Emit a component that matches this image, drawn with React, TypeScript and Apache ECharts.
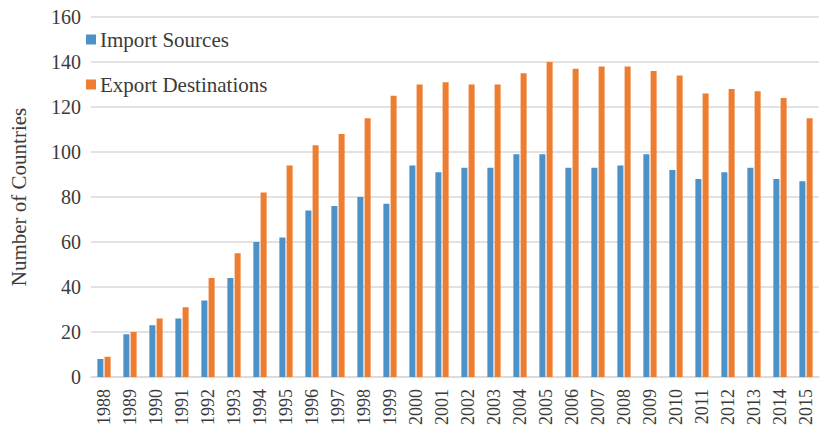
import React, { useEffect, useRef } from "react";
import * as echarts from "echarts";

const years = [
  "1988", "1989", "1990", "1991", "1992", "1993", "1994", "1995", "1996", "1997",
  "1998", "1999", "2000", "2001", "2002", "2003", "2004", "2005", "2006", "2007",
  "2008", "2009", "2010", "2011", "2012", "2013", "2014", "2015",
];

const importSources = [
  8, 19, 23, 26, 34, 44, 60, 62, 74, 76,
  80, 77, 94, 91, 93, 93, 99, 99, 93, 93,
  94, 99, 92, 88, 91, 93, 88, 87,
];

const exportDestinations = [
  9, 20, 26, 31, 44, 55, 82, 94, 103, 108,
  115, 125, 130, 131, 130, 130, 135, 140, 137, 138,
  138, 136, 134, 126, 128, 127, 124, 115,
];

const FONT = "Liberation Serif";
const TEXT = "#3b3b3b";

export default function App() {
  const ref = useRef<HTMLDivElement>(null);

  useEffect(() => {
    if (!ref.current) return;
    const chart = echarts.init(ref.current, null, { renderer: "svg" });
    chart.setOption({
      animation: false,
      backgroundColor: "#ffffff",
      textStyle: { fontFamily: FONT },
      grid: { left: 83, right: 1, top: 17, bottom: 49.5, containLabel: false },
      legend: {
        orient: "vertical",
        left: 81,
        top: 24,
        itemWidth: 10,
        itemHeight: 10,
        itemGap: 24,
        icon: "rect",
        textStyle: { fontFamily: FONT, fontSize: 21, color: TEXT, padding: [0, 0, 0, -1] },
        data: ["Import Sources", "Export Destinations"],
      },
      xAxis: {
        type: "category",
        data: years,
        axisTick: { show: false },
        axisLine: { lineStyle: { color: "#d9d9d9", width: 1.5 } },
        axisLabel: {
          rotate: 90,
          margin: 12,
          interval: 0,
          formatter: (v: string) => `{t|${v}}`,
          rich: { t: { fontFamily: FONT, fontSize: 18, color: TEXT } },
        },
      },
      yAxis: {
        type: "value",
        min: 0,
        max: 160,
        interval: 20,
        name: "Number of Countries",
        nameLocation: "middle",
        nameGap: 62,
        nameTextStyle: { fontFamily: FONT, fontSize: 21, color: TEXT },
        axisLine: { show: false },
        axisTick: { show: false },
        axisLabel: {
          margin: 10,
          formatter: (v: number) => `{t|${v}}`,
          rich: { t: { fontFamily: FONT, fontSize: 20, color: TEXT } },
        },
        splitLine: { lineStyle: { color: "#d9d9d9", width: 1.5 } },
      },
      series: [
        {
          name: "Import Sources",
          type: "bar",
          data: importSources,
          barGap: "20%",
          barCategoryGap: "49%",
          itemStyle: { color: "#4d91c9" },
        },
        {
          name: "Export Destinations",
          type: "bar",
          data: exportDestinations,
          itemStyle: { color: "#ed7d31" },
        },
      ],
    });
    return () => chart.dispose();
  }, []);

  return <div ref={ref} style={{ width: 820, height: 428, position: "absolute", left: 0, top: 0 }} />;
}
